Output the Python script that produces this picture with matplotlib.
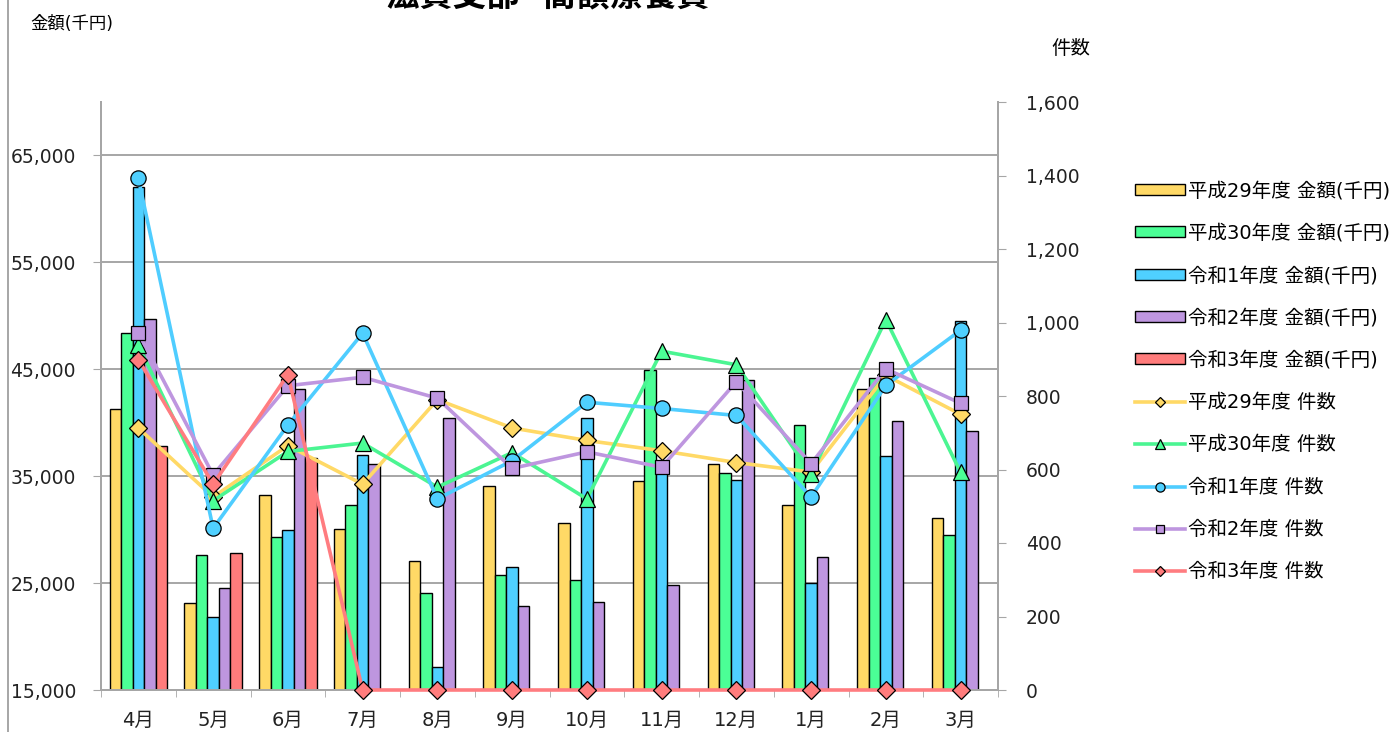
import matplotlib
matplotlib.use("Agg")
import matplotlib.pyplot as plt
from matplotlib.lines import Line2D
import numpy as np

plt.rcParams['font.family'] = ['DejaVu Sans', 'Noto Sans CJK JP']

months = ['4月', '5月', '6月', '7月', '8月', '9月', '10月', '11月', '12月', '1月', '2月', '3月']
years = ['平成29年度', '平成30年度', '令和1年度', '令和2年度', '令和3年度']

# 金額(千円)
amt_h29 = [41300, 23150, 33270, 30020, 27030, 34080, 30610, 34520, 36110, 32340, 43120, 31130]
amt_h30 = [48430, 27620, 29320, 32340, 24080, 25770, 25300, 44960, 35300, 39800, 44230, 29540]
amt_r1 = [62050, 21860, 29980, 36990, 17180, 26550, 40420, 35600, 34630, 25000, 36850, 49500]
amt_r2 = [49690, 24520, 43120, 36110, 40460, 22820, 23270, 24850, 44040, 27470, 40170, 39210]
amt_r3 = [37800, 27800, 36700, 0, 0, 0, 0, 0, 0, 0, 0, 0]

# 件数
cnt_h29 = [713, 525, 665, 560, 790, 713, 679, 651, 619, 593, 856, 750]
cnt_h30 = [938, 515, 649, 672, 552, 646, 520, 922, 885, 588, 1008, 592]
cnt_r1 = [1392, 440, 721, 971, 520, 624, 783, 766, 747, 525, 829, 979]
cnt_r2 = [972, 585, 828, 851, 794, 603, 648, 606, 839, 616, 874, 780]
cnt_r3 = [899, 560, 858, 0, 0, 0, 0, 0, 0, 0, 0, 0]

amounts = [amt_h29, amt_h30, amt_r1, amt_r2, amt_r3]
counts = [cnt_h29, cnt_h30, cnt_r1, cnt_r2, cnt_r3]

bar_colors = ['#FFD966', '#4BFF96', '#4FD0FF', '#BE96DF', '#FF7C7C']
line_colors = ['#FFD966', '#4BF592', '#4FCDFF', '#BE96DF', '#FF7C80']
markers = ['D', '^', 'o', 's', 'D']
msizes = [9, 11, 11, 10, 9]

grid_c = '#A6A6A6'

fig = plt.figure(figsize=(13.99, 7.32), dpi=100)
ax = fig.add_axes([101 / 1399, 1 - 690 / 732, 897 / 1399, 588 / 732])
ax2 = ax.twinx()

x = np.arange(len(months))
w = 0.154
for i, (vals, c) in enumerate(zip(amounts, bar_colors)):
    ax.bar(x + (i - 2) * w, vals, width=w, color=c, edgecolor='black',
           linewidth=1, label=f'{years[i]} 金額(千円)', zorder=3)

for i, (vals, c) in enumerate(zip(counts, line_colors)):
    ax2.plot(x, vals, color=c, lw=2.6, marker=markers[i], markersize=msizes[i],
             markerfacecolor=bar_colors[i], markeredgecolor='black',
             markeredgewidth=0.9, label=f'{years[i]} 件数', zorder=4, clip_on=False)

ax.set_xlim(-0.5, 11.5)
ax.set_ylim(15000, 70000)
ax.set_yticks(np.arange(15000, 70000, 10000))
ax.yaxis.set_major_formatter(matplotlib.ticker.StrMethodFormatter('{x:,.0f}'))
ax.yaxis.grid(True, color=grid_c, lw=1.4, zorder=0)
ax.set_axisbelow(True)
ax2.set_ylim(0, 1600)
ax2.set_yticks(np.arange(0, 1601, 200))
ax2.yaxis.set_major_formatter(matplotlib.ticker.StrMethodFormatter('{x:,.0f}'))

ax.set_xticks(x)
ax.set_xticklabels(months)
ax.set_xticks(np.arange(-0.5, 12, 1), minor=True)
ax.tick_params(axis='x', which='major', length=0, pad=15, labelsize=14, colors='#222222')
ax.tick_params(axis='x', which='minor', length=5, color=grid_c)
ax.tick_params(axis='y', length=6, color=grid_c, pad=12, labelsize=13.5, labelcolor='#222222')
ax2.tick_params(axis='y', length=6, color=grid_c, pad=14, labelsize=13.5, labelcolor='#222222')

for a in (ax, ax2):
    a.spines['top'].set_visible(False)
    for s in ('left', 'right', 'bottom'):
        a.spines[s].set_color(grid_c)
        a.spines[s].set_linewidth(1.4)

fig.text(30 / 1399, 1 - 24 / 732, '金額(千円)', fontsize=12.5, va='center', ha='left')
fig.text(1071 / 1399, 1 - 48 / 732, '件数', fontsize=14, va='center', ha='center')
# title sits partly above the top edge, as in the source image
fig.text(548 / 1399, 1 - 13 / 732, '滋賀支部  高額療養費', fontsize=24, fontweight='bold',
         va='bottom', ha='center')

fig.add_artist(Line2D([8 / 1399, 8 / 1399], [0, 1], color=grid_c, lw=1.4))

h1, l1 = ax.get_legend_handles_labels()
h2, l2 = ax2.get_legend_handles_labels()
fig.legend(h1 + h2, l1 + l2, loc='upper left', bbox_to_anchor=(1117 / 1399, 1 - 164 / 732),
           frameon=False, fontsize=14, handlelength=2.6, handleheight=0.5, handletextpad=0.15,
           labelspacing=1.2, markerscale=0.6)

fig.savefig('out.png', dpi=100)
